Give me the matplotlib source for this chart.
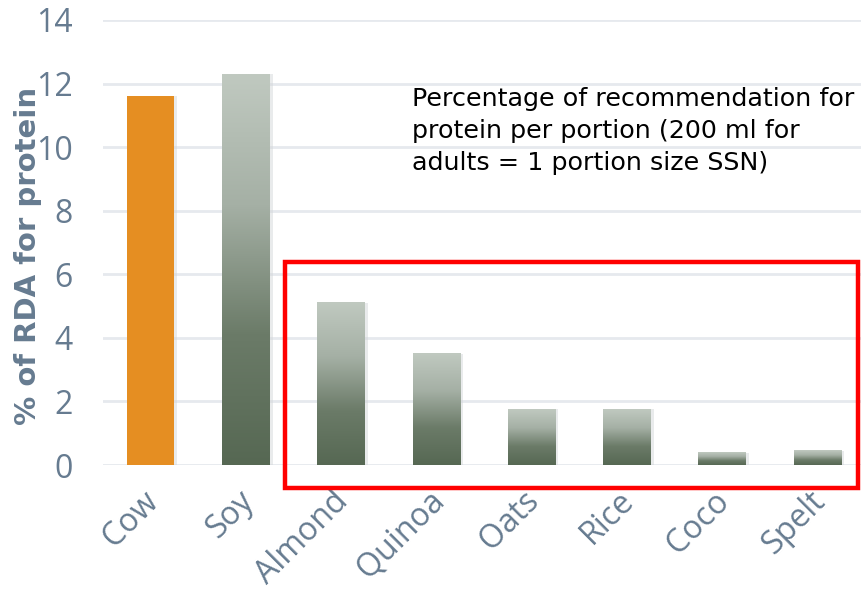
import numpy as np
import matplotlib
matplotlib.use("Agg")
import matplotlib.pyplot as plt
import matplotlib.transforms as mtransforms
from matplotlib.colors import LinearSegmentedColormap
from matplotlib.patches import Rectangle

# Données du graphique
categories = ['Cow', 'Soy', 'Almond', 'Quinoa', 'Oats', 'Rice', 'Coco', 'Spelt']
protein_pct = [11.6, 12.3, 5.1, 3.5, 1.75, 1.75, 0.38, 0.45]
y_ticks = [0, 2, 4, 6, 8, 10, 12, 14]
note = "Percentage of recommendation for\nprotein per portion (200 ml for\nadults = 1 portion size SSN)"

label_color = '#667b90'
grid_color = '#e6e9ee'
orange = '#e58e22'
grad = LinearSegmentedColormap.from_list('g', ['#566853', '#6b7b68', '#a5b0a5', '#c0c9c0'])

fig = plt.figure(figsize=(8.62, 5.93), dpi=100)
ax = fig.add_axes([103 / 862, 128 / 593, 762 / 862, 445 / 593])

width = 0.5
x = np.arange(len(categories))
# Ombre légère derrière les barres
ax.bar(x + 0.015, protein_pct, width=width + 0.03, color='#d0d3d6', alpha=0.45, zorder=2)
bars = ax.bar(x, protein_pct, width=width, color='none', zorder=3)

# Dégradé vertical pour les barres végétales, orange pour le lait de vache
ramp = np.linspace(0, 1, 256).reshape(-1, 1)
for i, b in enumerate(bars):
    if i == 0:
        b.set_facecolor(orange)
        continue
    x0 = b.get_x()
    h = b.get_height()
    ax.imshow(ramp, cmap=grad, aspect='auto', origin='lower',
              extent=(x0, x0 + width, 0, h), zorder=3, interpolation='bilinear')

ax.set_xlim(-0.5, len(categories) - 0.5)
ax.set_ylim(0, 14)
ax.set_yticks(y_ticks)
ax.set_xticks(x)
ax.set_xticklabels(categories, rotation=45, ha='right', rotation_mode='anchor')
ax.tick_params(length=0, labelsize=23, labelcolor=label_color)
ax.tick_params(axis='y', pad=22)
ax.tick_params(axis='x', pad=14)
shift = mtransforms.ScaledTranslation(-9 / 100, 0, fig.dpi_scale_trans)
for lab in ax.get_xticklabels():
    lab.set_family('Open Sans')
    lab.set_transform(lab.get_transform() + shift)
for lab in ax.get_yticklabels():
    lab.set_family('Open Sans')

ax.yaxis.grid(True, color=grid_color, linewidth=2, zorder=0)
ax.set_axisbelow(True)
for s in ax.spines.values():
    s.set_visible(False)

ax.set_ylabel('% of RDA for protein', fontsize=21, fontweight='bold', color=label_color)
ax.yaxis.set_label_coords(-0.08, 0.47)

ax.text(0.405, 0.85, note, transform=ax.transAxes, fontsize=18.3, color='black',
        va='top', ha='left', linespacing=1.42, family='DejaVu Sans')

# Cadre rouge autour des boissons végétales à faible teneur
rect = Rectangle((1.41, -0.72), 6.02, 7.1, fill=False, edgecolor='#ff0000',
                 linewidth=3.2, clip_on=False, zorder=5)
ax.add_patch(rect)

fig.savefig('out.png', dpi=100)
